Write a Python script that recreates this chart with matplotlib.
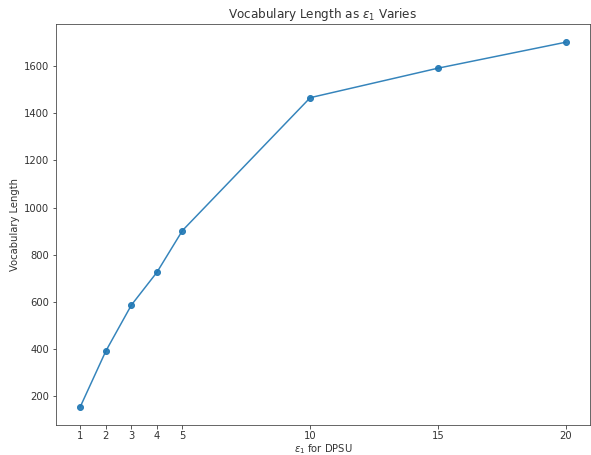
import matplotlib.pyplot as plt

# epsilon_1 values and resulting vocabulary length
eps = [1, 2, 3, 4, 5, 10, 15, 20]
vocab_len = [156, 392, 587, 726, 903, 1466, 1591, 1701]

plt.rcParams['font.size'] = 10
plt.rcParams['text.color'] = '#333333'
plt.rcParams['axes.labelcolor'] = '#333333'
plt.rcParams['xtick.color'] = '#333333'
plt.rcParams['ytick.color'] = '#333333'
plt.rcParams['axes.edgecolor'] = '#444444'

fig = plt.figure(figsize=(591 / 72, 455 / 72), dpi=72)
ax = fig.add_axes([56 / 591, 30 / 455, 534 / 591, 401 / 455])
ax.plot(eps, vocab_len, marker='o', color='#1f77b4', alpha=0.9)
ax.set_xticks(eps)
ax.tick_params(axis='x', pad=2.5)
ax.set_xlabel(r'$\varepsilon_1$ for DPSU', labelpad=1)
ax.set_ylabel('Vocabulary Length')
ax.set_title(r'Vocabulary Length as $\varepsilon_1$ Varies', fontsize=12)

fig.savefig('out.png', dpi=72)
